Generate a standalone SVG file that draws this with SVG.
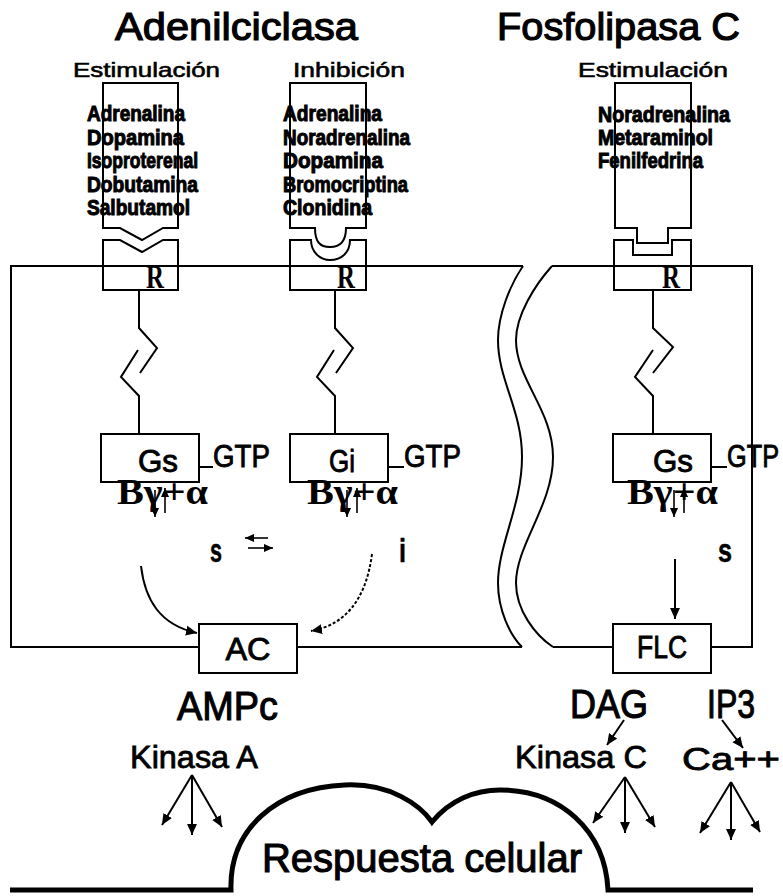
<svg xmlns="http://www.w3.org/2000/svg" width="783" height="896" viewBox="0 0 783 896">
<style>
.ln{fill:none;stroke:#000;stroke-width:2}
.bx{fill:none;stroke:#000;stroke-width:2}
.s{font-family:"Liberation Sans",Arial,sans-serif;fill:#000}
.ttl{font-size:39px;stroke:#000;stroke-width:1.2}
.sub{font-size:21px;stroke:#000;stroke-width:0.6}
.drug{font-size:22px;font-weight:bold;stroke:#000;stroke-width:1}
.g{font-size:32px;stroke:#000;stroke-width:0.9}
.big{font-size:40px;stroke:#000;stroke-width:1.1}
.med{font-size:31px;stroke:#000;stroke-width:0.8}
.sb{font-size:34px;font-weight:bold;stroke:#000;stroke-width:0.5}
.sf{font-family:"Liberation Serif","Times New Roman",serif;font-weight:bold;fill:#000}
.r{font-size:33px}
.bg{font-size:36px}
.arr{fill:none;stroke:#000;stroke-width:2;marker-end:url(#ah)}
.sarr{fill:none;stroke:#000;stroke-width:1.6;marker-end:url(#sh)}
</style>
<defs>
<marker id="ah" viewBox="0 0 10 10" refX="10" refY="5" markerWidth="11" markerHeight="11" markerUnits="userSpaceOnUse" orient="auto">
<path d="M0,0.5 L10,5 L0,9.5 z" fill="#000"/>
</marker>
<marker id="sh" viewBox="0 0 10 10" refX="10" refY="5" markerWidth="9" markerHeight="9" markerUnits="userSpaceOnUse" orient="auto">
<path d="M0,0.5 L10,5 L0,9.5 z" fill="#000"/>
</marker>
</defs>
<rect width="783" height="896" fill="#fff"/>

<g id="titles">
<text class="s ttl" x="115" y="40" textLength="243" lengthAdjust="spacingAndGlyphs">Adenilciclasa</text>
<text class="s ttl" x="497" y="40" textLength="243" lengthAdjust="spacingAndGlyphs">Fosfolipasa C</text>
<text class="s sub" x="73" y="77" textLength="147" lengthAdjust="spacingAndGlyphs">Estimulación</text>
<text class="s sub" x="293" y="77" textLength="112" lengthAdjust="spacingAndGlyphs">Inhibición</text>
<text class="s sub" x="578" y="77" textLength="150" lengthAdjust="spacingAndGlyphs">Estimulación</text>
</g>

<g id="membrane">
<path class="ln" d="M523,266 H11 V647 H199"/>
<path class="ln" d="M297,647 H522"/>
<path class="ln" d="M523,266 C510,285 498,315 498,340 C498,380 522,410 522,457 C522,505 498,545 498,583 C498,610 510,635 522,647"/>
<path class="ln" d="M552,266 C535,285 516,315 516,340 C516,380 553,410 553,457 C553,505 516,545 516,583 C516,610 535,635 553,647"/>
<path class="ln" d="M552,266 H752 V647 H711"/>
<path class="ln" d="M553,647 H613"/>
</g>

<g id="ligand-stim">
<path class="bx" d="M103,83 H178 V228 H163 L142,240 L120,228 H103 Z"/>
<text class="s drug" x="87" y="121" textLength="98" lengthAdjust="spacingAndGlyphs">Adrenalina</text>
<text class="s drug" x="87" y="145" textLength="97" lengthAdjust="spacingAndGlyphs">Dopamina</text>
<text class="s drug" x="87" y="168" textLength="111" lengthAdjust="spacingAndGlyphs">Isoproterenal</text>
<text class="s drug" x="87" y="192" textLength="111" lengthAdjust="spacingAndGlyphs">Dobutamina</text>
<text class="s drug" x="87" y="215" textLength="103" lengthAdjust="spacingAndGlyphs">Salbutamol</text>
</g>
<g id="ligand-inhib">
<path class="bx" d="M290,83 H366 V228 H346 C346,242 340,247 330,247 C320,247 315,242 315,228 H290 Z"/>
<text class="s drug" x="283" y="121" textLength="99" lengthAdjust="spacingAndGlyphs">Adrenalina</text>
<text class="s drug" x="283" y="145" textLength="127" lengthAdjust="spacingAndGlyphs">Noradrenalina</text>
<text class="s drug" x="283" y="168" textLength="100" lengthAdjust="spacingAndGlyphs">Dopamina</text>
<text class="s drug" x="283" y="192" textLength="125" lengthAdjust="spacingAndGlyphs">Bromocriptina</text>
<text class="s drug" x="283" y="215" textLength="89" lengthAdjust="spacingAndGlyphs">Clonidina</text>
</g>
<g id="ligand-flc">
<path class="bx" d="M615,83 H691 V228 H668 V243 H637 V228 H615 Z"/>
<text class="s drug" x="598" y="122" textLength="132" lengthAdjust="spacingAndGlyphs">Noradrenalina</text>
<text class="s drug" x="598" y="145" textLength="115" lengthAdjust="spacingAndGlyphs">Metaraminol</text>
<text class="s drug" x="598" y="168" textLength="105" lengthAdjust="spacingAndGlyphs">Fenilfedrina</text>
</g>

<g id="receptor-stim">
<path class="bx" d="M103,240 H120 L142,252 L163,240 H178 V290 H103 Z"/>
<text class="sf r" x="146" y="288" textLength="18" lengthAdjust="spacingAndGlyphs">R</text>
</g>
<g id="receptor-inhib">
<path class="bx" d="M290,240 H311 C311,252 320,260 330,260 C342,260 350,252 350,240 H366 V290 H290 Z"/>
<text class="sf r" x="337" y="288" textLength="18" lengthAdjust="spacingAndGlyphs">R</text>
</g>
<g id="receptor-flc">
<path class="bx" d="M614,240 H633 V255 H672 V240 H691 V290 H614 Z"/>
<text class="sf r" x="662" y="288" textLength="18" lengthAdjust="spacingAndGlyphs">R</text>
</g>

<g id="gs-left">
<rect class="bx" x="101" y="434" width="98" height="48"/>
<text class="s g" x="138" y="472" textLength="40" lengthAdjust="spacingAndGlyphs">Gs</text>
<text class="s g" x="213" y="467" textLength="57" lengthAdjust="spacingAndGlyphs">GTP</text>
<text class="sf bg" x="117" y="504" textLength="91" lengthAdjust="spacingAndGlyphs">Bγ+α</text>
</g>
<g id="gi">
<rect class="bx" x="290" y="434" width="98" height="48"/>
<text class="s g" x="329" y="472" textLength="26" lengthAdjust="spacingAndGlyphs">Gi</text>
<text class="s g" x="404" y="467" textLength="57" lengthAdjust="spacingAndGlyphs">GTP</text>
<text class="sf bg" x="307" y="504" textLength="91" lengthAdjust="spacingAndGlyphs">Bγ+α</text>
</g>
<g id="gs-right">
<rect class="bx" x="613" y="434" width="98" height="48"/>
<text class="s g" x="653" y="472" textLength="40" lengthAdjust="spacingAndGlyphs">Gs</text>
<text class="s g" x="779" y="467" text-anchor="end" textLength="52" lengthAdjust="spacingAndGlyphs">GTP</text>
<text class="sf bg" x="627" y="504" textLength="91" lengthAdjust="spacingAndGlyphs">Bγ+α</text>
</g>

<g id="labels-si">
<text class="s sb" x="210" y="562" textLength="12" lengthAdjust="spacingAndGlyphs">s</text>
<text class="s sb" x="399" y="562" textLength="7" lengthAdjust="spacingAndGlyphs">i</text>
<text class="s sb" x="718" y="562" textLength="14" lengthAdjust="spacingAndGlyphs">s</text>
</g>

<g id="ac">
<rect class="bx" x="199" y="624" width="98" height="49"/>
<text class="s g" x="248" y="660" text-anchor="middle" textLength="45" lengthAdjust="spacingAndGlyphs">AC</text>
</g>
<g id="flc">
<rect class="bx" x="613" y="624" width="98" height="49"/>
<text class="s g" x="662" y="658" text-anchor="middle" textLength="50" lengthAdjust="spacingAndGlyphs">FLC</text>
</g>

<g id="second-messengers">
<text class="s big" x="177" y="720" textLength="101" lengthAdjust="spacingAndGlyphs">AMPc</text>
<text class="s med" x="130" y="768" textLength="128" lengthAdjust="spacingAndGlyphs">Kinasa A</text>
<text class="s big" x="570" y="718" textLength="78" lengthAdjust="spacingAndGlyphs">DAG</text>
<text class="s big" x="707" y="718" textLength="48" lengthAdjust="spacingAndGlyphs">IP3</text>
<text class="s med" x="515" y="768" textLength="132" lengthAdjust="spacingAndGlyphs">Kinasa C</text>
<text class="s med" x="682" y="770" textLength="98" lengthAdjust="spacingAndGlyphs">Ca++</text>
</g>

<g id="respuesta">
<path d="M10,890 H231 C229,830 275,788 345,785 C390,783 420,805 432,822 C450,800 475,790 500,790 C560,790 605,830 608,890 H753" fill="none" stroke="#000" stroke-width="5"/>
<text class="s big" x="262" y="872" textLength="320" lengthAdjust="spacingAndGlyphs">Respuesta celular</text>
</g>

<g id="connectors">
<path class="ln" d="M139,290 V328 L157,348 L140,373"/>
<path class="ln" d="M138,350 L121,377 L139,396 V434"/>
<path class="ln" d="M335,290 V328 L353,348 L336,373"/>
<path class="ln" d="M334,350 L317,377 L335,396 V434"/>
<path class="ln" d="M653,290 V328 L673,347 L653,373"/>
<path class="ln" d="M653,350 L635,377 L653,396 V434"/>
<path class="ln" d="M199,467 H213"/>
<path class="ln" d="M388,467 H404"/>
<path class="ln" d="M711,467 H727"/>
<path class="sarr" d="M155,490 V517"/>
<path class="sarr" d="M165,513 V488"/>
<path class="sarr" d="M347,490 V517"/>
<path class="sarr" d="M357,513 V488"/>
<path class="sarr" d="M674,490 V517"/>
<path class="sarr" d="M684,513 V488"/>
<path class="sarr" d="M268,538 H245"/>
<path class="sarr" d="M248,548 H273"/>
<path class="arr" d="M141,566 C145,600 160,625 197,633"/>
<path class="arr" d="M372,554 C366,600 345,625 311,631" stroke-dasharray="3,2"/>
<path class="arr" d="M675,559 V619"/>
<path class="arr" d="M624,720 L607,745"/>
<path class="arr" d="M722,720 L743,748"/>
<path class="arr" d="M192,775 L162,825"/>
<path class="arr" d="M192,775 V835"/>
<path class="arr" d="M192,775 L222,827"/>
<path class="arr" d="M625,777 L593,823"/>
<path class="arr" d="M625,777 V833"/>
<path class="arr" d="M625,777 L655,827"/>
<path class="arr" d="M731,782 L700,833"/>
<path class="arr" d="M731,782 V840"/>
<path class="arr" d="M731,782 L760,832"/>
</g>
</svg>
